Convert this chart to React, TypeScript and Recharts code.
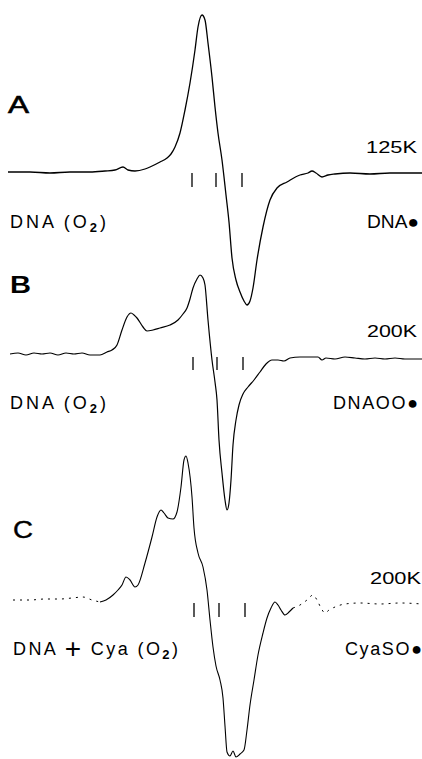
import React from 'react';
import { ComposedChart, Line, XAxis, YAxis, ReferenceLine } from 'recharts';

// Field position (horizontal, arbitrary field units) and derivative signal amplitude for each spectrum
const fieldA = [8, 30, 50, 70, 90, 105, 115, 123, 128, 135, 145, 150, 160, 167, 171, 175, 180, 185, 190, 195, 198, 202, 205, 208, 212, 215, 218, 222, 226, 229, 232, 236, 240, 244, 247, 250, 253, 257, 263, 270, 277, 287, 300, 308, 312, 316, 322, 328, 335, 350, 370, 390, 410, 422];
const signalA = [0, 0, -1, 0, 0, 1, 2, 5, 2, 1, 3, 5, 10, 14, 18, 25, 39, 62, 89, 122, 145, 157, 152, 129, 95, 65, 39, 12, -23, -50, -86, -108, -120, -129, -133, -129, -116, -88, -55, -28, -16, -10, -3, -1, 1, -1, -5, -3, -2, -1, -2, -1, -1, -1];

const fieldB = [10, 18, 26, 34, 42, 50, 58, 66, 74, 82, 90, 100, 107, 112, 117, 122, 127, 131, 134, 137, 143, 147, 153, 160, 170, 178, 183, 187, 190, 193, 197, 200, 203, 205, 208, 212, 215, 217, 219, 222, 225, 227, 229, 231, 233, 236, 239, 243, 248, 254, 260, 266, 272, 278, 284, 290, 300, 312, 318, 322, 326, 335, 345, 355, 365, 375, 385, 395, 405, 422];
const signalB = [0, 1, -1, 1, 0, 1, -1, 1, 0, 1, -1, -1, 2, 4, 9, 24, 37, 41, 39, 36, 27, 23, 24, 26, 29, 34, 40, 46, 55, 66, 75, 79, 76, 69, 34, -6, -28, -46, -86, -119, -146, -156, -149, -126, -91, -66, -51, -40, -33, -26, -18, -10, -6, -6, -7, -4, -3, -3, -3, -6, -4, -5, -3, -4, -5, -4, -5, -4, -5, -5];

const fieldCLeft = [13, 30, 45, 60, 72, 83, 92, 100];
const signalCLeft = [0, 0, 1, 1, 2, 3, 0, -2];
const fieldCMain = [100, 106, 113, 118, 122, 126, 130, 135, 138, 145, 152, 157, 161, 164, 168, 173, 177, 181, 184, 186, 188, 192, 194, 198, 203, 207, 210, 213, 216, 220, 223, 225, 227, 230, 233, 236, 240, 244, 247, 250, 254, 258, 263, 267, 271, 275, 278, 281, 285, 289, 293];
const signalCMain = [-2, 0, 5, 10, 15, 23, 20, 13, 15, 37, 63, 83, 90, 87, 82, 81, 88, 113, 140, 144, 137, 103, 72, 47, 33, 10, -20, -47, -66, -80, -98, -126, -152, -156, -151, -157, -154, -150, -130, -105, -80, -55, -33, -18, -8, -2, -5, -10, -15, -12, -8];
const fieldCRight = [293, 300, 307, 313, 317, 321, 325, 329, 335, 345, 360, 380, 400, 422];
const signalCRight = [-8, -5, 0, 5, 0, -8, -13, -10, -7, -4, -3, -4, -3, -4];

// g-value marker ticks (field positions) for each spectrum
const marksA = [192, 216, 242];
const marksB = [193, 217, 243];
const marksC = [194, 219, 245];

const zip = (xs: number[], vs: number[]) => xs.map((x, i) => ({ x, v: vs[i] }));

const dataA = zip(fieldA, signalA);
const dataB = zip(fieldB, signalB);
const dataCLeft = zip(fieldCLeft, signalCLeft);
const dataCMain = zip(fieldCMain, signalCMain);
const dataCRight = zip(fieldCRight, signalCRight);

const W = 422;
const H = 759;
const font = '"Liberation Sans", Arial, Helvetica, sans-serif';

export default function App() {
  return (
    <div style={{ position: 'absolute', left: 0, top: 0, width: W, height: H, background: '#fff' }}>
      <ComposedChart width={W} height={H} margin={{ top: 0, right: 0, bottom: 0, left: 0 }}>
        <XAxis type="number" dataKey="x" domain={[0, W]} hide allowDataOverflow />
        <YAxis yAxisId="a" type="number" domain={[-587, 172]} hide allowDataOverflow />
        <YAxis yAxisId="b" type="number" domain={[-405, 354]} hide allowDataOverflow />
        <YAxis yAxisId="c" type="number" domain={[-159, 600]} hide allowDataOverflow />
        <Line yAxisId="a" data={dataA} dataKey="v" type="monotone" stroke="#000" strokeWidth={1.3} dot={false} activeDot={false} legendType="none" isAnimationActive={false} />
        <Line yAxisId="b" data={dataB} dataKey="v" type="monotone" stroke="#000" strokeWidth={1.2} dot={false} activeDot={false} legendType="none" isAnimationActive={false} />
        <Line yAxisId="c" data={dataCLeft} dataKey="v" type="monotone" stroke="#000" strokeWidth={1} strokeDasharray="2 5" dot={false} activeDot={false} legendType="none" isAnimationActive={false} />
        <Line yAxisId="c" data={dataCMain} dataKey="v" type="monotone" stroke="#000" strokeWidth={1.1} dot={false} activeDot={false} legendType="none" isAnimationActive={false} />
        <Line yAxisId="c" data={dataCRight} dataKey="v" type="monotone" stroke="#000" strokeWidth={1} strokeDasharray="2 5" dot={false} activeDot={false} legendType="none" isAnimationActive={false} />
        {marksA.map((m) => (
          <ReferenceLine key={'a' + m} yAxisId="a" segment={[{ x: m, y: -1 }, { x: m, y: -15 }]} stroke="#000" strokeWidth={1.3} />
        ))}
        {marksB.map((m) => (
          <ReferenceLine key={'b' + m} yAxisId="b" segment={[{ x: m, y: -3 }, { x: m, y: -16 }]} stroke="#000" strokeWidth={1.3} />
        ))}
        {marksC.map((m) => (
          <ReferenceLine key={'c' + m} yAxisId="c" segment={[{ x: m, y: -3 }, { x: m, y: -17 }]} stroke="#000" strokeWidth={1.3} />
        ))}
      </ComposedChart>
      <svg width={W} height={H} style={{ position: 'absolute', left: 0, top: 0, pointerEvents: 'none' }}>
        <g fontFamily={font} fill="#000">
          <text x={8} y={113} fontSize={23} textLength={21} lengthAdjust="spacingAndGlyphs" stroke="#000" strokeWidth={0.6}>A</text>
          <text x={10} y={293} fontSize={24} textLength={21} lengthAdjust="spacingAndGlyphs" fontWeight="bold">B</text>
          <text x={13} y={538} fontSize={24} textLength={20} lengthAdjust="spacingAndGlyphs" stroke="#000" strokeWidth={0.4}>C</text>

          <text x={366} y={153} fontSize={16.5} textLength={51} lengthAdjust="spacingAndGlyphs">125K</text>
          <text x={367} y={337} fontSize={16.5} textLength={50} lengthAdjust="spacingAndGlyphs">200K</text>
          <text x={370} y={584} fontSize={16.5} textLength={51} lengthAdjust="spacingAndGlyphs">200K</text>

          <text x={10} y={228} fontSize={18} textLength={96} lengthAdjust="spacing">
            DNA (O<tspan fontSize={13} fontWeight="bold" dy={4}>2</tspan><tspan dy={-4}>)</tspan>
          </text>
          <text x={367} y={228} fontSize={18} textLength={52} lengthAdjust="spacingAndGlyphs">DNA●</text>

          <text x={10} y={409} fontSize={18} textLength={96} lengthAdjust="spacing">
            DNA (O<tspan fontSize={13} fontWeight="bold" dy={4}>2</tspan><tspan dy={-4}>)</tspan>
          </text>
          <text x={333} y={409} fontSize={18} textLength={85} lengthAdjust="spacing">DNAOO●</text>

          <text x={13} y={655} fontSize={18} textLength={165} lengthAdjust="spacing">
            DNA <tspan fontSize={28} fontWeight="300" dy={3}>+</tspan><tspan dy={-3}> Cya (O</tspan><tspan fontSize={13} fontWeight="bold" dy={4}>2</tspan><tspan dy={-4}>)</tspan>
          </text>
          <text x={345} y={655} fontSize={18} textLength={77} lengthAdjust="spacing">CyaSO●</text>
        </g>
      </svg>
    </div>
  );
}
